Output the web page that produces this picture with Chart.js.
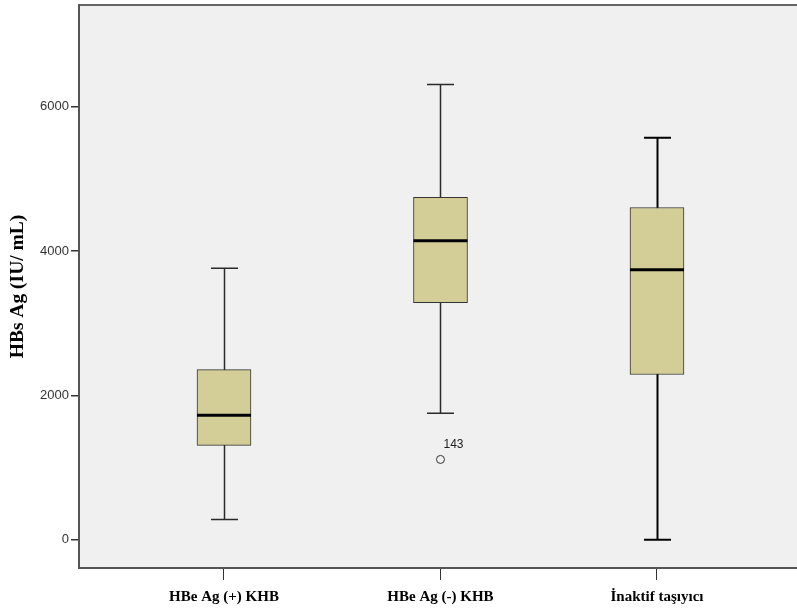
<!DOCTYPE html>
<html>
<head>
<meta charset="utf-8">
<script src="https://cdn.jsdelivr.net/npm/chart.js@4"></script>
<style>
html,body{margin:0;padding:0;background:#fff;}
#wrap{width:797px;height:611px;}
</style>
</head>
<body>
<div id="wrap"><canvas id="c" width="797" height="611"></canvas></div>
<script>
// ---- data ----
const categories = ["HBe Ag (+) KHB", "HBe Ag (-) KHB", "İnaktif taşıyıcı"];
const whiskerLow  = [281, 1753, 0];
const q1Values    = [1306, 3286, 2290];
const medianValues= [1725, 4144, 3743];
const q3Values    = [2358, 4744, 4605];
const whiskerHigh = [3761, 6309, 5570];
const outlierValues = [null, 1112, null];
const outlierLabels = [null, "143", null];
const yTickValues = [0, 2000, 4000, 6000];

// ---- styles (kept separate from data) ----
const whiskerColors = ["#2a2a2a", "#2a2a2a", "#000000"];
const whiskerWidths = [1.5, 1.5, 2];

const boxData = categories.map((c, i) => ({x: i + 1, y: [q1Values[i], q3Values[i]]}));
const outlierData = [];
outlierValues.forEach((v, i) => { if (v !== null) outlierData.push({x: i + 1, y: v, label: outlierLabels[i]}); });

const BOX_W = 54;

const bgPlugin = {
  id: 'bg',
  beforeDraw(chart) {
    const {ctx, chartArea: a} = chart;
    const right = chart.width;
    ctx.save();
    ctx.fillStyle = '#f0f0f0';
    ctx.fillRect(a.left, a.top, right - a.left, a.bottom - a.top);
    ctx.strokeStyle = '#666';
    ctx.lineWidth = 2;
    ctx.beginPath();
    ctx.moveTo(a.left, a.top);
    ctx.lineTo(right, a.top);
    ctx.stroke();
    ctx.restore();
  },
  afterDraw(chart) {
    const {ctx, chartArea: a} = chart;
    ctx.save();
    ctx.strokeStyle = '#555';
    ctx.lineWidth = 2;
    ctx.beginPath();
    ctx.moveTo(a.right - 1, a.bottom);
    ctx.lineTo(chart.width, a.bottom);
    ctx.stroke();
    ctx.restore();
  }
};

const whiskerPlugin = {
  id: 'whiskers',
  beforeDatasetsDraw(chart) {
    const {ctx, scales: {x, y}} = chart;
    ctx.save();
    categories.forEach((c, i) => {
      const cx = Math.round(x.getPixelForValue(i + 1)) + 0.5;
      const yLo = y.getPixelForValue(whiskerLow[i]);
      const yHi = y.getPixelForValue(whiskerHigh[i]);
      ctx.strokeStyle = whiskerColors[i];
      ctx.lineWidth = whiskerWidths[i];
      ctx.beginPath();
      ctx.moveTo(cx, yLo); ctx.lineTo(cx, yHi);
      ctx.moveTo(cx - BOX_W / 4, yLo); ctx.lineTo(cx + BOX_W / 4, yLo);
      ctx.moveTo(cx - BOX_W / 4, yHi); ctx.lineTo(cx + BOX_W / 4, yHi);
      ctx.stroke();
    });
    ctx.restore();
  },
  afterDatasetsDraw(chart) {
    const {ctx, scales: {x, y}} = chart;
    ctx.save();
    categories.forEach((c, i) => {
      const cx = x.getPixelForValue(i + 1);
      const ym = y.getPixelForValue(medianValues[i]);
      ctx.strokeStyle = '#000';
      ctx.lineWidth = 3;
      ctx.beginPath();
      ctx.moveTo(cx - BOX_W / 2, ym); ctx.lineTo(cx + BOX_W / 2, ym);
      ctx.stroke();
    });
    ctx.fillStyle = '#222';
    ctx.font = '12px "Liberation Sans", Arial, sans-serif';
    ctx.textAlign = 'left';
    ctx.textBaseline = 'middle';
    outlierData.forEach(p => {
      const px = x.getPixelForValue(p.x);
      const py = y.getPixelForValue(p.y);
      ctx.fillText(p.label, px + 3, py - 15);
    });
    ctx.restore();
  }
};

new Chart(document.getElementById('c'), {
  data: {
    datasets: [
      {
        type: 'bar',
        data: boxData,
        backgroundColor: '#d3ce97',
        borderColor: '#333',
        borderWidth: 1,
        borderSkipped: false,
        barThickness: BOX_W,
        order: 2
      },
      {
        type: 'scatter',
        data: outlierData,
        pointStyle: 'circle',
        pointRadius: 4,
        pointBorderWidth: 1,
        pointBorderColor: '#333',
        pointBackgroundColor: 'rgba(0,0,0,0)',
        order: 1
      }
    ]
  },
  options: {
    responsive: false,
    animation: false,
    layout: {padding: {top: 4, right: 0, left: 0, bottom: 0}},
    plugins: {legend: {display: false}, tooltip: {enabled: false}},
    scales: {
      x: {
        type: 'linear',
        offset: false,
        min: 0.3303,
        max: 3.6236,
        afterBuildTicks: s => { s.ticks = [1, 2, 3].map(v => ({value: v})); },
        afterFit: s => { s.height = 43; s.paddingLeft = 0; s.paddingRight = 0; },
        ticks: {
          callback: v => categories[v - 1] || '',
          font: {family: '"Liberation Serif", "Times New Roman", serif', size: 15, weight: 'bold'},
          color: '#000',
          padding: 8,
          maxRotation: 0,
          autoSkip: false
        },
        grid: {offset: false, drawOnChartArea: false, tickLength: 12, color: '#333', lineWidth: 1},
        border: {display: true, color: '#555', width: 2}
      },
      y: {
        type: 'linear',
        min: -393,
        max: 7412,
        afterBuildTicks: s => { s.ticks = yTickValues.map(v => ({value: v})); },
        afterFit: s => { s.width = 79; s.paddingTop = 0; s.paddingBottom = 0; },
        ticks: {
          callback: v => String(v),
          font: {family: '"Liberation Sans", Arial, sans-serif', size: 13},
          color: '#333',
          padding: 2
        },
        grid: {drawOnChartArea: false, tickLength: 8, color: '#333', lineWidth: 1.5},
        border: {display: true, color: '#555', width: 2},
        title: {
          display: true,
          text: 'HBs Ag (IU/ mL)',
          font: {family: '"Liberation Serif", "Times New Roman", serif', size: 19.5, weight: 'bold'},
          color: '#000',
          padding: {top: 6, bottom: 0}
        }
      }
    }
  },
  plugins: [bgPlugin, whiskerPlugin]
});
</script>
</body>
</html>
